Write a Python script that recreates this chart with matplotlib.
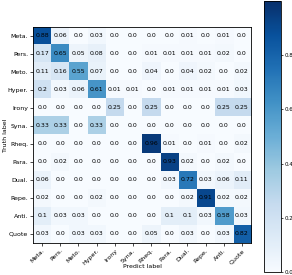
import numpy as np
import matplotlib
matplotlib.use("Agg")
import matplotlib.pyplot as plt

labels = ["Meta.", "Pers.", "Meto.", "Hyper.", "Irony", "Syna.",
          "Rheq.", "Para.", "Dual.", "Repe.", "Anti.", "Quote"]

cm = np.array([
    [0.88, 0.06, 0.0, 0.03, 0.0, 0.0, 0.0, 0.0, 0.01, 0.0, 0.01, 0.0],
    [0.17, 0.65, 0.05, 0.08, 0.0, 0.0, 0.01, 0.01, 0.01, 0.01, 0.02, 0.0],
    [0.11, 0.16, 0.55, 0.07, 0.0, 0.0, 0.04, 0.0, 0.04, 0.02, 0.0, 0.02],
    [0.2, 0.03, 0.06, 0.61, 0.01, 0.01, 0.0, 0.01, 0.01, 0.01, 0.01, 0.03],
    [0.0, 0.0, 0.0, 0.0, 0.25, 0.0, 0.25, 0.0, 0.0, 0.0, 0.25, 0.25],
    [0.33, 0.33, 0.0, 0.33, 0.0, 0.0, 0.0, 0.0, 0.0, 0.0, 0.0, 0.0],
    [0.0, 0.0, 0.0, 0.0, 0.0, 0.0, 0.96, 0.01, 0.0, 0.01, 0.0, 0.02],
    [0.0, 0.02, 0.0, 0.0, 0.0, 0.0, 0.0, 0.93, 0.02, 0.0, 0.02, 0.0],
    [0.06, 0.0, 0.0, 0.0, 0.0, 0.0, 0.0, 0.03, 0.72, 0.03, 0.06, 0.11],
    [0.02, 0.0, 0.0, 0.02, 0.0, 0.0, 0.0, 0.0, 0.02, 0.91, 0.02, 0.02],
    [0.1, 0.03, 0.03, 0.0, 0.0, 0.0, 0.0, 0.1, 0.1, 0.03, 0.58, 0.03],
    [0.03, 0.0, 0.03, 0.03, 0.0, 0.0, 0.05, 0.0, 0.03, 0.0, 0.03, 0.82],
])

fs = 4.5

fig = plt.figure(figsize=(2.92, 2.75), dpi=100)
ax = fig.add_axes([0.113, 0.1164, 0.7466, 0.7855])
im = ax.imshow(cm, cmap="Blues", vmin=0.0, vmax=1.0, aspect="auto",
               interpolation="nearest")

n = len(labels)
for i in range(n):
    for j in range(n):
        ax.text(j, i, str(cm[i, j]), ha="center", va="center",
                fontsize=fs, color="black")

ax.set_xticks(range(n))
ax.set_yticks(range(n))
ax.set_xticklabels(labels, rotation=45, ha="right", rotation_mode="anchor")
ax.set_yticklabels(labels)
ax.tick_params(labelsize=fs, length=2, width=0.5, pad=1.5)
for s in ax.spines.values():
    s.set_linewidth(0.6)
ax.set_xlabel("Predict label", fontsize=fs)
ax.set_ylabel("Truth label", fontsize=fs)
ax.xaxis.set_label_coords(0.5, -0.095)
ax.yaxis.set_label_coords(-0.115, 0.5)

# colorbar stretches over the full height, the way the original was cropped
cax = fig.add_axes([0.905, 0.011, 0.058, 0.985])
cb = fig.colorbar(im, cax=cax)
cb.set_ticks([0.0, 0.2, 0.4, 0.6, 0.8])
cb.ax.tick_params(labelsize=4, length=1.5, width=0.5, pad=0.8)
cb.outline.set_linewidth(0.6)

fig.savefig("out.png", dpi=100)
